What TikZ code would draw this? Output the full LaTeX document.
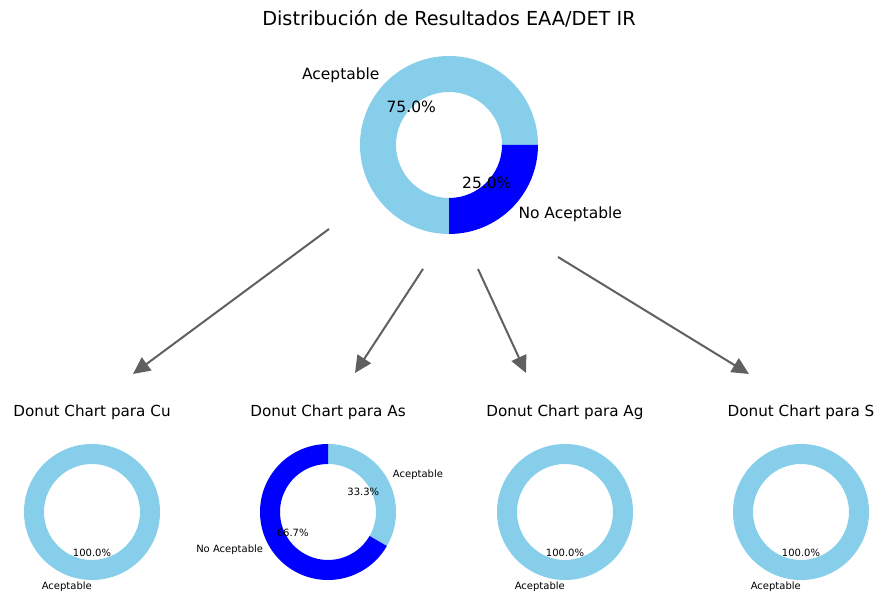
\documentclass[tikz,border=0pt]{standalone}
\usepackage{fontspec}
\setmainfont{DejaVu Sans}
\usepackage{xcolor}
\definecolor{acepcolor}{HTML}{87CEEB}
\definecolor{noacepcolor}{HTML}{0000FF}
\definecolor{arrowcolor}{HTML}{606060}
\usetikzlibrary{
  arrows.meta,
  calc,
}
\tikzstyle{bigtext}=[inner sep=0pt, font=\fontsize{15.5}{18}\selectfont]
\tikzstyle{maintitle}=[bigtext, font=\fontsize{19.3}{22}\selectfont]
\tikzstyle{charttitle}=[bigtext, font=\fontsize{15.2}{18}\selectfont]
\tikzstyle{smalltext}=[inner sep=0pt, font=\fontsize{10}{12}\selectfont]
\tikzstyle{linkarrow}=[-{Triangle[length=17pt, width=16pt]}, draw=arrowcolor, line width=2pt]
% one coloured piece of a donut: centre, outer, inner, from, to, colour
\newcommand{\donutpart}[6]{%
  \fill[#6] ($(#1)+(#4:#2)$) arc[start angle=#4, end angle=#5, radius=#2]
    -- ($(#1)+(#5:#3)$) arc[start angle=#5, end angle=#4, radius=#3] -- cycle;}
\newcommand{\donutfull}[4]{%
  \fill[#4, even odd rule] (#1) circle (#2) (#1) circle (#3);}

\begin{document}
\begin{tikzpicture}[x=1pt, y=1pt]
	\useasboundingbox (0,0) rectangle (879,601);
	\coordinate (mainpie) at (449,456);
	\node (title) [maintitle] at (449,582) {Distribución de Resultados EAA/DET IR};
	\donutpart{mainpie}{89pt}{53pt}{0}{270}{acepcolor}
	\donutpart{mainpie}{89pt}{53pt}{270}{360}{noacepcolor}
	\path (mainpie) + (135:98pt) node (mainacep) [bigtext, anchor=east] {Aceptable};
	\path (mainpie) + (135:53.4pt) node (mainacepval) [bigtext] {75.0\%};
	\path (mainpie) + (315:98pt) node (mainnoacep) [bigtext, anchor=west] {No Aceptable};
	\path (mainpie) + (315:53.4pt) node (mainnoacepval) [bigtext] {25.0\%};
	% lower row
	\coordinate (cupie) at (92,89);
	\coordinate (aspie) at (328,89);
	\coordinate (agpie) at (565,89);
	\coordinate (spie) at (801,89);
	\path (cupie) + (0,100) node (cutitle) [charttitle] {Donut Chart para Cu};
	\path (aspie) + (0,100) node (astitle) [charttitle] {Donut Chart para As};
	\path (agpie) + (0,100) node (agtitle) [charttitle] {Donut Chart para Ag};
	\path (spie) + (0,100) node (stitle) [charttitle] {Donut Chart para S};
	\donutfull{cupie}{68pt}{48pt}{acepcolor}
	\donutfull{agpie}{68pt}{48pt}{acepcolor}
	\donutfull{spie}{68pt}{48pt}{acepcolor}
	\donutpart{aspie}{68pt}{48pt}{-30}{90}{acepcolor}
	\donutpart{aspie}{68pt}{48pt}{90}{330}{noacepcolor}
	\path (cupie) + (270:40.8pt) node (cuval) [smalltext] {100.0\%};
	\path (cupie) + (270:74.8pt) node (culabel) [smalltext, anchor=east] {Aceptable};
	\path (agpie) + (270:40.8pt) node (agval) [smalltext] {100.0\%};
	\path (agpie) + (270:74.8pt) node (aglabel) [smalltext, anchor=east] {Aceptable};
	\path (spie) + (270:40.8pt) node (sval) [smalltext] {100.0\%};
	\path (spie) + (270:74.8pt) node (slabel) [smalltext, anchor=east] {Aceptable};
	\path (aspie) + (30:40.8pt) node (asacepval) [smalltext] {33.3\%};
	\path (aspie) + (30:74.8pt) node (asacep) [smalltext, anchor=west] {Aceptable};
	\path (aspie) + (210:40.8pt) node (asnoacepval) [smalltext] {66.7\%};
	\path (aspie) + (210:74.8pt) node (asnoacep) [smalltext, anchor=east] {No Aceptable};
	% arrows from the main donut to the lower row
	\coordinate (cufrom) at (329,372);
	\coordinate (asfrom) at (423,332);
	\coordinate (agfrom) at (478,332);
	\coordinate (sfrom) at (558,344);
	\coordinate (cuto) at (133,227);
	\coordinate (asto) at (355,228);
	\coordinate (agto) at (526,228);
	\coordinate (sto) at (749,227);
	\draw [linkarrow] (cufrom) -- (cuto);
	\draw [linkarrow] (asfrom) -- (asto);
	\draw [linkarrow] (agfrom) -- (agto);
	\draw [linkarrow] (sfrom) -- (sto);
\end{tikzpicture}
\end{document}
